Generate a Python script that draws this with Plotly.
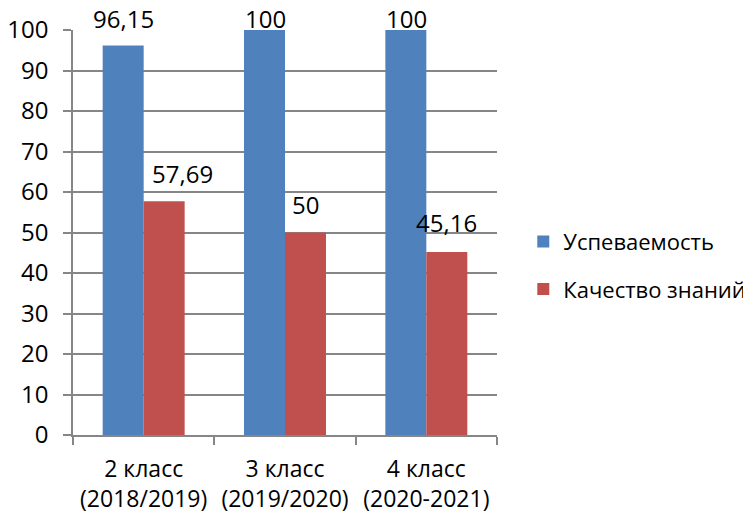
import plotly.graph_objects as go

categories = ["2 класс<br>(2018/2019)", "3 класс<br>(2019/2020)", "4 класс<br>(2020-2021)"]
uspev = [96.15, 100, 100]
kach = [57.69, 50, 45.16]
uspev_labels = ["96,15", "100", "100"]
kach_labels = ["57,69", "50", "45,16"]

BLUE = "#4F81BD"
RED = "#C0504D"
GRID = "#868686"
FONT = "Open Sans"

fig = go.Figure()
fig.add_trace(go.Bar(x=categories, y=uspev, name="Успеваемость", marker_color=BLUE,
                     marker_line_width=0, legendgroup="a"))
fig.add_trace(go.Bar(x=categories, y=kach, name="Качество знаний", marker_color=RED,
                     marker_line_width=0, legendgroup="b"))

ann = []
ushift = [27, 12, 12]
for c, v, t, ys in zip(categories, uspev, uspev_labels, ushift):
    ann.append(dict(x=c, y=v, text=t, xref="x", yref="y", showarrow=False,
                    xshift=-20, yanchor="middle", yshift=ys,
                    font=dict(family=FONT, size=24, color="black")))
kxs = [19, 0, 0]
kys = [28, 28, 30]
for c, v, t, xs, ys in zip(categories, kach, kach_labels, kxs, kys):
    ann.append(dict(x=c, y=v, text=t, xref="x", yref="y", showarrow=False,
                    xshift=20 + xs, yanchor="middle", yshift=ys,
                    font=dict(family=FONT, size=24, color="black")))

fig.update_layout(
    width=751, height=515,
    margin=dict(l=65, r=262, t=22, b=88, autoexpand=False),
    paper_bgcolor="white", plot_bgcolor="white",
    font=dict(family=FONT, size=24, color="black"),
    barmode="group", bargap=0.42, bargroupgap=0,
    annotations=ann,
    legend=dict(x=1.062, xanchor="left", xref="paper", y=0.418, yanchor="middle",
                tracegroupgap=16, traceorder="grouped",
                font=dict(family=FONT, size=22), itemwidth=30),
    showlegend=True,
)
fig.update_yaxes(range=[0, 100], dtick=10, showgrid=True, gridcolor=GRID, gridwidth=1.5,
                 showline=True, linecolor=GRID, linewidth=1.5, ticks="outside", ticklen=8,
                 tickcolor=GRID, tickwidth=1.5, zeroline=False, fixedrange=True,
                 ticklabelstandoff=10, automargin=False,
                 tickfont=dict(family=FONT, size=24, color="black"))
fig.update_xaxes(showline=True, linecolor=GRID, linewidth=1.5, ticks="outside", ticklen=8,
                 tickcolor=GRID, tickwidth=1.5, tickson="boundaries", showgrid=False,
                 automargin=False, tickangle=0, ticklabelstandoff=13,
                 tickfont=dict(family=FONT, size=23, color="black"))

fig.write_html("out.html")
